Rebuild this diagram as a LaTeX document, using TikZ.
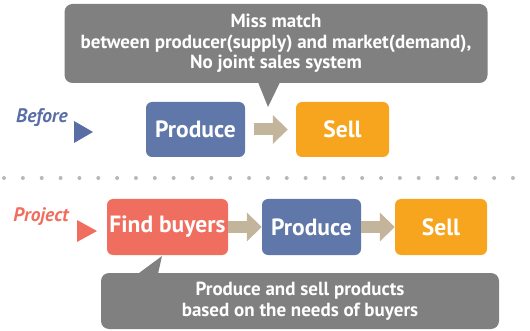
\documentclass[tikz,border=0pt]{standalone}
\usepackage{fontspec}
\setmainfont{PT Sans}
\usetikzlibrary{arrows.meta,positioning}

\definecolor{boxblue}{HTML}{6077A9}
\definecolor{boxorange}{HTML}{F7A51E}
\definecolor{boxred}{HTML}{F06E5F}
\definecolor{arrowtan}{HTML}{C3B59B}
\definecolor{notegray}{HTML}{808080}
\definecolor{dotgray}{HTML}{B8B8B8}
\definecolor{labelblue}{HTML}{5A6DA5}

\tikzset{
    stepbox/.style = {rounded corners=6pt, inner sep=0pt, text=white,
        font=\bfseries\fontsize{23.5}{26}\selectfont, minimum height=55pt},
    notebox/.style = {fill=notegray, rounded corners=8pt, inner sep=0pt, text=white, align=center,
        font=\bfseries\fontsize{19}{20.5}\selectfont},
    flow/.style = {arrowtan, line width=12pt, -{Triangle[width=28pt,length=15pt]}},
    rowlabel/.style = {font=\bfseries\itshape\fontsize{19.5}{22}\selectfont}
}

\begin{document}
\begin{tikzpicture}[x=1pt, y=-1pt]
    \useasboundingbox (0,0) rectangle (530,331);

    % before
    \node[stepbox, fill=boxblue, minimum width=99pt] (produceA) at (195.5,129.5) {Produce};
    \node[stepbox, fill=boxorange, minimum width=93pt] (sellA) at (342.5,129.5) {Sell};
    \draw[flow, shorten <=9pt, shorten >=8pt] (produceA.east) -- (sellA.west);

    \node[rowlabel, text=labelblue] (before) at (42,118) {Before};
    \fill[labelblue] (74,121) -- (93,132) -- (74,143) -- cycle;

    \node[notebox, minimum width=423pt, minimum height=79pt] (noteA) at (276,43.5)
        {Miss match\\between producer(supply) and market(demand),\\No joint sales system};
    \fill[notegray] ([xshift=-18pt,yshift=1pt]noteA.south) -- (268,107) -- ([xshift=4pt,yshift=1pt]noteA.south) -- cycle;

    % dotted line
    \foreach \i in {0,...,27}
        \fill[dotgray] (4+18.85*\i,178) circle (2pt);

    % project
    \node[rowlabel, text=boxred] (project) at (41,217) {Project};
    \fill[boxred] (77,220) -- (97,231) -- (77,242) -- cycle;

    \node[stepbox, fill=boxred, minimum width=121pt, minimum height=56pt] (findB) at (167.5,227) {Find buyers};
    \node[stepbox, fill=boxblue, minimum width=99pt, minimum height=56pt] (produceB) at (311.5,227) {Produce};
    \node[stepbox, fill=boxorange, minimum width=92pt, minimum height=56pt] (sellB) at (441,227) {Sell};
    \draw[flow] (findB.east) -- (produceB.west);
    \draw[flow] (produceB.east) -- (sellB.west);

    \node[notebox, minimum width=398pt, minimum height=56pt] (noteB) at (300,301)
        {Produce and sell products\\based on the needs of buyers};
    \fill[notegray] ([xshift=-162pt,yshift=-1pt]noteB.north) -- (162,256) -- ([xshift=-142pt,yshift=-1pt]noteB.north) -- cycle;
\end{tikzpicture}
\end{document}
